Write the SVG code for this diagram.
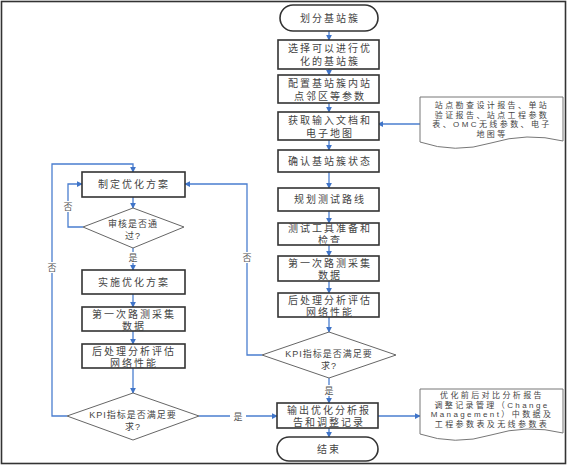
<svg xmlns="http://www.w3.org/2000/svg" width="568" height="466" viewBox="0 0 568 466">
<defs>
<style>
.box{fill:#fff;stroke:#333;stroke-width:1.6}
.dia{fill:#fff;stroke:#666;stroke-width:1}
.doc{fill:#fff;stroke:#777;stroke-width:1}
.t{font-family:"Liberation Sans","Noto Sans CJK SC",sans-serif;font-size:10px;fill:#444;text-anchor:middle;letter-spacing:2px}
.s{font-family:"Liberation Sans","Noto Sans CJK SC",sans-serif;font-size:9px;fill:#444;text-anchor:middle;letter-spacing:1px}
.d{font-family:"Liberation Sans","Noto Sans CJK SC",sans-serif;font-size:8px;fill:#444;text-anchor:middle;letter-spacing:2.4px}
.lbl{font-family:"Liberation Sans","Noto Sans CJK SC",sans-serif;font-size:9px;fill:#555;text-anchor:middle}
.c{fill:none;stroke:#4a7ecf;stroke-width:1.3;marker-end:url(#ah)}
</style>
<marker id="ah" viewBox="0 0 8 8" refX="7" refY="4" markerWidth="6" markerHeight="6" orient="auto" markerUnits="userSpaceOnUse">
<path d="M0,0 L8,4 L0,8 Z" fill="#3f74c8"/>
</marker>
</defs>
<rect x="1.5" y="1.5" width="564" height="462" fill="#fff" stroke="#333" stroke-width="1.6"/>

<g id="connectors">
<path class="c" d="M329,31 V40"/>
<path class="c" d="M329,69 V75"/>
<path class="c" d="M329,103 V112"/>
<path class="c" d="M420,124 H378"/>
<path class="c" d="M329,140 V150"/>
<path class="c" d="M329,172 V188"/>
<path class="c" d="M329,211 V223"/>
<path class="c" d="M329,245 V256"/>
<path class="c" d="M329,281 V293"/>
<path class="c" d="M329,317 V332"/>
<path class="c" d="M329,378 V403"/>
<path class="c" d="M262,355 H247 V184 H185"/>
<path class="c" d="M378,416 H420"/>
<path class="c" d="M329,428 V437"/>
<path class="c" d="M133,197 V208"/>
<path class="c" d="M83,227 H68 V184 H82"/>
<path class="c" d="M133,248 V270"/>
<path class="c" d="M133,294 V307"/>
<path class="c" d="M133,331 V344"/>
<path class="c" d="M133,368 V393"/>
<path class="c" d="M67,416 H52 V164 H133 V172"/>
<path class="c" d="M199,416 H277"/>
<rect x="60" y="201" width="16" height="11" fill="#fff"/>
<text class="lbl" x="68" y="210">否</text>
<rect x="125" y="252" width="16" height="11" fill="#fff"/>
<text class="lbl" x="133" y="261">是</text>
<rect x="44" y="262" width="16" height="11" fill="#fff"/>
<text class="lbl" x="52" y="271">否</text>
<rect x="239" y="252" width="16" height="11" fill="#fff"/>
<text class="lbl" x="247" y="261">否</text>
<rect x="321" y="385" width="16" height="11" fill="#fff"/>
<text class="lbl" x="329" y="394">是</text>
<rect x="230" y="411" width="16" height="11" fill="#fff"/>
<text class="lbl" x="238" y="420">是</text>
</g>

<g id="n1"><rect class="box" x="280" y="5" width="98" height="26" rx="13"/><text class="t" x="330" y="22">划分基站簇</text></g>
<g id="n2"><rect class="box" x="278" y="40" width="101" height="29"/><text class="t" x="330" y="52">选择可以进行优</text><text class="t" x="330" y="65">化的基站簇</text></g>
<g id="n3"><rect class="box" x="278" y="75" width="101" height="28"/><text class="t" x="330" y="87">配置基站簇内站</text><text class="t" x="330" y="100">点邻区等参数</text></g>
<g id="n4"><rect class="box" x="278" y="112" width="101" height="28"/><text class="t" x="330" y="124">获取输入文档和</text><text class="t" x="330" y="137">电子地图</text></g>
<g id="n5"><rect class="box" x="278" y="150" width="101" height="22"/><text class="t" x="330" y="165">确认基站簇状态</text></g>
<g id="n6"><rect class="box" x="278" y="188" width="101" height="23"/><text class="t" x="330" y="203">规划测试路线</text></g>
<g id="n7"><rect class="box" x="278" y="223" width="101" height="22"/><text class="t" x="330" y="232">测试工具准备和</text><text class="t" x="330" y="244">检查</text></g>
<g id="n8"><rect class="box" x="278" y="256" width="101" height="25"/><text class="t" x="330" y="267">第一次路测采集</text><text class="t" x="330" y="279">数据</text></g>
<g id="n9"><rect class="box" x="278" y="293" width="101" height="24"/><text class="t" x="330" y="304">后处理分析评估</text><text class="t" x="330" y="316">网络性能</text></g>
<g id="n10"><path class="dia" d="M262,355 L329,332 L396,355 L329,378 Z"/><text class="s" x="329" y="357">KPI指标是否满足要</text><text class="s" x="329" y="369">求?</text></g>
<g id="n11"><rect class="box" x="277" y="403" width="101" height="25"/><text class="t" x="329" y="414">输出优化分析报</text><text class="t" x="329" y="426">告和调整记录</text></g>
<g id="n12"><rect class="box" x="277" y="437" width="101" height="24" rx="12"/><text class="t" x="329" y="453">结束</text></g>

<g id="d1"><path class="doc" d="M420,97 H563 V141 Q527,132 491,143 Q455,154 420,142 Z"/>
<text class="d" x="492" y="108">站点勘查设计报告、单站</text>
<text class="d" x="492" y="117.5">验证报告、站点工程参数</text>
<text class="d" x="492" y="127">表、OMC无线参数、电子</text>
<text class="d" x="492" y="136.5">地图等</text></g>
<g id="d2"><path class="doc" d="M420,389 H563 V433 Q527,424 491,435 Q455,446 420,434 Z"/>
<text class="d" x="492" y="398">优化前后对比分析报告</text>
<text class="d" x="492" y="407.5">调整记录管理（Change</text>
<text class="d" x="492" y="417">Management）中数据及</text>
<text class="d" x="492" y="426.5">工程参数表及无线参数表</text></g>

<g id="m1"><rect class="box" x="82" y="172" width="103" height="25"/><text class="t" x="134" y="188">制定优化方案</text></g>
<g id="m2"><path class="dia" d="M83,227 L133,208 L184,227 L133,248 Z"/><text class="s" x="133" y="227">审核是否通</text><text class="s" x="133" y="239">过?</text></g>
<g id="m3"><rect class="box" x="82" y="270" width="103" height="24"/><text class="t" x="134" y="286">实施优化方案</text></g>
<g id="m4"><rect class="box" x="82" y="307" width="103" height="24"/><text class="t" x="134" y="318">第一次路测采集</text><text class="t" x="134" y="330">数据</text></g>
<g id="m5"><rect class="box" x="82" y="344" width="103" height="24"/><text class="t" x="134" y="355">后处理分析评估</text><text class="t" x="134" y="367">网络性能</text></g>
<g id="m6"><path class="dia" d="M67,416 L133,393 L199,416 L133,440 Z"/><text class="s" x="133" y="418">KPI指标是否满足要</text><text class="s" x="133" y="430">求?</text></g>
</svg>
